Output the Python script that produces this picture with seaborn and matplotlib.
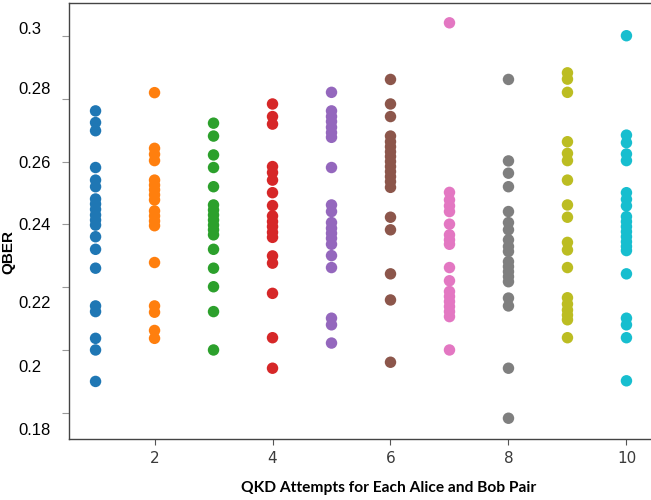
import pandas as pd
import seaborn as sns
import matplotlib.pyplot as plt
from matplotlib.transforms import ScaledTranslation

# QBER values, one list per attempt
attempt_1 = [0.2761, 0.2724, 0.2698, 0.2581, 0.2541, 0.2520, 0.2481, 0.2465, 0.2448, 0.2430,
             0.2414, 0.2398, 0.2361, 0.2321, 0.2261, 0.2141, 0.2123, 0.2038, 0.2001, 0.1901]
attempt_2 = [0.2819, 0.2642, 0.2623, 0.2603, 0.2541, 0.2525, 0.2510, 0.2494, 0.2478, 0.2443,
             0.2427, 0.2411, 0.2396, 0.2279, 0.2141, 0.2121, 0.2063, 0.2038]
attempt_3 = [0.2722, 0.2681, 0.2621, 0.2581, 0.2520, 0.2462, 0.2446, 0.2430, 0.2414, 0.2398,
             0.2383, 0.2367, 0.2321, 0.2261, 0.2202, 0.2123, 0.2001]
attempt_4 = [0.2783, 0.2743, 0.2719, 0.2584, 0.2565, 0.2541, 0.2501, 0.2460, 0.2427, 0.2409,
             0.2393, 0.2375, 0.2359, 0.2300, 0.2277, 0.2181, 0.2040, 0.1943]
attempt_5 = [0.2820, 0.2761, 0.2743, 0.2727, 0.2709, 0.2692, 0.2677, 0.2581, 0.2462, 0.2441,
             0.2406, 0.2388, 0.2372, 0.2356, 0.2337, 0.2301, 0.2263, 0.2102, 0.2081, 0.2023]
attempt_6 = [0.2861, 0.2783, 0.2743, 0.2681, 0.2663, 0.2647, 0.2631, 0.2616, 0.2600, 0.2584,
             0.2568, 0.2552, 0.2536, 0.2518, 0.2423, 0.2383, 0.2243, 0.2160, 0.1962]
attempt_7 = [0.3041, 0.2502, 0.2478, 0.2459, 0.2441, 0.2401, 0.2367, 0.2351, 0.2337, 0.2263,
             0.2221, 0.2187, 0.2171, 0.2155, 0.2139, 0.2123, 0.2107, 0.2001]
attempt_8 = [0.2861, 0.2602, 0.2563, 0.2520, 0.2441, 0.2406, 0.2383, 0.2351, 0.2330, 0.2314,
             0.2282, 0.2266, 0.2250, 0.2234, 0.2218, 0.2166, 0.2141, 0.1943, 0.1784]
attempt_9 = [0.2882, 0.2862, 0.2820, 0.2663, 0.2626, 0.2603, 0.2541, 0.2462, 0.2423, 0.2343,
             0.2319, 0.2263, 0.2167, 0.2147, 0.2128, 0.2112, 0.2097, 0.2040]
attempt_10 = [0.3000, 0.2684, 0.2660, 0.2624, 0.2603, 0.2501, 0.2480, 0.2459, 0.2425, 0.2409,
              0.2393, 0.2377, 0.2361, 0.2345, 0.2330, 0.2317, 0.2243, 0.2102, 0.2081, 0.2040,
              0.1903]

y_ticks = [0.18, 0.2, 0.22, 0.24, 0.26, 0.28, 0.3]
y_tick_labels = ['0.18', '0.2', '0.22', '0.24', '0.26', '0.28', '0.3']
# vertical shift of each y tick label in pixels (the reference labels are not centred on ticks)
y_label_shift = [16, 16, 15, 0, 0, -11, -8]
x_ticks = [2, 4, 6, 8, 10]

all_attempts = [attempt_1, attempt_2, attempt_3, attempt_4, attempt_5,
                attempt_6, attempt_7, attempt_8, attempt_9, attempt_10]
rows = []
for i, values in enumerate(all_attempts):
    for v in values:
        rows.append({'Attempt': i + 1, 'QBER': v})
df = pd.DataFrame(rows)

fig = plt.figure(figsize=(6.51, 5.0), dpi=100)
ax = fig.add_axes([69 / 651, 61 / 500, 584 / 651, 436 / 500])

sns.scatterplot(data=df, x='Attempt', y='QBER', hue='Attempt', palette='tab10',
                s=68, edgecolor='none', linewidth=0, legend=False, ax=ax)

ax.set_xlim(0.55, 10.45)
ax.set_ylim(0.1718, 0.3104)
ax.set_xticks(x_ticks)
ax.set_xticklabels([str(t) for t in x_ticks], fontsize=11, color='#3a3a3a')

ax.tick_params(axis='y', length=5, width=0.8, color='#999999', pad=31.5)
ax.tick_params(axis='x', length=4, width=0.8, color='#555555', pad=4.5)
ax.set_yticks(y_ticks)
ax.set_yticklabels(y_tick_labels, fontsize=12, family='Liberation Sans',
                   color='black', ha='left')
for tick, shift in zip(ax.yaxis.get_major_ticks(), y_label_shift):
    lab = tick.label1
    lab.set_transform(lab.get_transform() + ScaledTranslation(0, -shift / 100, fig.dpi_scale_trans))

for side in ['left', 'top', 'bottom', 'right']:
    ax.spines[side].set_color('#444444')
    ax.spines[side].set_linewidth(1.0)

ax.set_ylabel('QBER', fontsize=11, fontweight='bold', family='Liberation Sans')
ax.yaxis.set_label_coords(-0.0925, 0.43)
ax.set_xlabel('QKD Attempts for Each Alice and Bob Pair', fontsize=11.2,
              fontweight='bold', family='Lato')
ax.xaxis.set_label_coords(0.548, -0.097)

plt.savefig('out.png', dpi=100)
